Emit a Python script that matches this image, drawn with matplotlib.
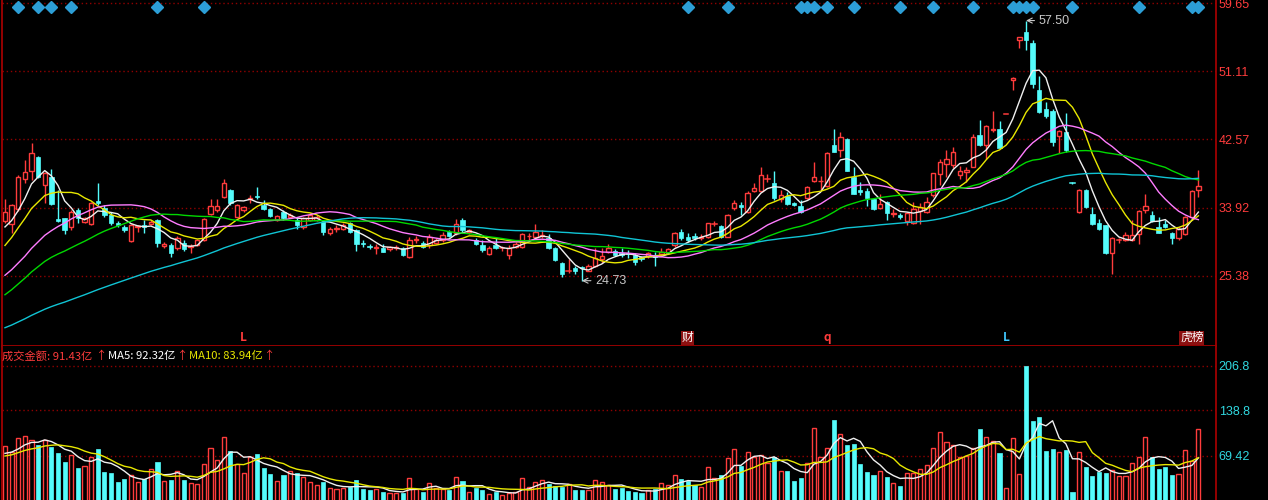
import numpy as np
import pandas as pd
import matplotlib
matplotlib.use("Agg")
import matplotlib.pyplot as plt
from matplotlib.patches import Rectangle

plt.rcParams['font.family'] = ['Noto Sans CJK SC', 'DejaVu Sans']

# ---------------- data ----------------
opens = [32.3, 31.87, 33.7, 37.6, 38.6, 40.27, 36.78, 37.75, 32.45, 32.58,
         31.53, 33.63, 32.16, 31.87, 34.8, 33.84, 33.0, 31.95, 31.53, 29.77,
         31.45, 31.74, 31.87, 32.37, 29.1, 29.22, 28.8, 29.43, 28.93, 29.22,
         29.85, 33.13, 33.63, 35.31, 36.15, 32.79, 33.63, 35.0, 35.4, 34.26,
         33.71, 32.37, 33.42, 32.79, 32.37, 31.45, 32.37, 32.37, 32.16, 30.7,
         31.25, 31.3, 31.95, 31.1, 29.45, 29.1, 28.9, 28.8, 28.7, 28.85,
         28.8, 27.75, 29.8, 29.5, 29.2, 29.5, 29.8, 30.9, 30.7, 32.4,
         30.9, 29.9, 29.2, 28.1, 29.2, 28.75, 28.0, 29.0, 29.0, 30.3,
         30.2, 30.3, 30.06, 28.8, 26.9, 25.95, 26.3, 26.5, 26.0, 26.6,
         27.4, 28.4, 28.5, 28.2, 28.2, 27.96, 27.7, 27.8, 27.96, 28.1,
         28.25, 29.2, 30.9, 30.2, 30.3, 30.1, 30.27, 31.85, 31.6, 30.27,
         33.84, 34.3, 33.4, 36.07, 36.07, 37.45, 36.99, 34.97, 35.4, 34.5,
         34.1, 35.2, 37.3, 37.25, 36.65, 41.8, 41.2, 42.53, 37.75, 36.2,
         36.07, 35.0, 33.84, 34.6, 33.1, 33.0, 32.3, 31.95, 33.55, 33.4,
         35.5, 38.17, 39.4, 39.3, 38.0, 38.4, 39.1, 43.1, 41.8, 43.7,
         43.8, 45.7, 50.0, 55.05, 56.1, 54.7, 48.7, 46.3, 46.15, 42.95,
         43.5, 37.07, 33.4, 36.15, 33.1, 32.0, 31.7, 28.25, 29.8, 29.85,
         29.85, 30.6, 33.6, 33.0, 31.45, 31.9, 30.8, 30.06, 30.6, 32.8,
         36.2]
highs = [34.97, 34.4, 38.0, 39.93, 42.03, 40.4, 38.46, 38.75, 36.15, 32.6,
         33.6, 33.84, 32.7, 34.7, 37.07, 34.3, 33.4, 32.3, 31.7, 31.9,
         31.8, 32.37, 32.4, 32.5, 29.6, 29.5, 30.3, 29.8, 29.4, 30.0,
         32.6, 34.97, 34.97, 37.5, 36.3, 34.4, 34.1, 35.5, 36.49, 34.9,
         33.9, 33.0, 33.63, 33.2, 32.6, 32.8, 33.2, 33.0, 32.37, 31.5,
         31.7, 32.0, 32.1, 31.2, 29.8, 29.4, 29.3, 29.3, 29.1, 29.2,
         29.0, 30.2, 30.3, 29.7, 30.6, 30.1, 30.9, 31.1, 32.5, 32.6,
         31.3, 30.1, 29.9, 29.1, 30.1, 29.1, 29.2, 29.6, 30.8, 30.8,
         31.9, 31.1, 30.6, 29.0, 27.1, 27.4, 26.6, 26.6, 26.8, 28.8,
         28.8, 29.35, 28.7, 28.8, 28.6, 28.2, 27.9, 28.4, 28.3, 28.8,
         28.9, 30.9, 31.3, 30.7, 30.7, 30.6, 32.0, 32.3, 31.8, 33.1,
         34.9, 34.6, 36.0, 37.0, 39.0, 38.2, 38.5, 36.1, 35.9, 34.7,
         34.9, 36.6, 39.7, 37.9, 40.9, 43.9, 43.5, 42.7, 39.1, 37.2,
         36.4, 35.2, 35.6, 34.8, 33.8, 33.2, 33.4, 34.7, 34.5, 35.3,
         38.25, 40.1, 41.2, 41.6, 39.2, 39.0, 43.2, 45.0, 44.3, 46.15,
         44.8, 45.7, 50.35, 55.4, 57.5, 55.0, 50.5, 47.3, 46.3, 43.7,
         45.8, 37.2, 36.3, 36.3, 34.0, 32.5, 31.8, 30.2, 30.1, 30.9,
         32.4, 33.6, 35.6, 33.5, 32.7, 32.4, 30.9, 31.5, 32.9, 36.2,
         38.7]
lows = [31.95, 30.7, 33.5, 37.0, 37.4, 37.7, 34.47, 34.3, 32.1, 30.6,
        31.1, 32.0, 32.0, 31.8, 34.26, 32.8, 31.8, 31.5, 30.9, 29.6,
        30.9, 30.7, 31.7, 28.93, 28.8, 27.7, 28.6, 28.5, 28.25, 29.1,
        29.7, 33.0, 33.4, 35.1, 34.3, 32.7, 33.4, 34.5, 35.0, 33.6,
        32.7, 32.2, 32.37, 32.6, 31.3, 31.3, 32.2, 32.2, 30.5, 30.5,
        30.9, 31.1, 30.8, 28.5, 29.0, 28.7, 28.1, 28.3, 28.5, 28.6,
        27.9, 27.6, 29.5, 28.9, 28.9, 29.3, 29.6, 30.2, 30.5, 30.9,
        30.6, 29.2, 28.4, 28.0, 28.7, 28.5, 27.5, 28.8, 28.9, 29.9,
        30.1, 30.1, 28.7, 27.2, 25.2, 25.65, 25.6, 24.73, 25.9, 26.5,
        26.9, 28.2, 27.8, 27.7, 27.6, 26.7, 27.2, 27.6, 26.6, 27.9,
        28.1, 29.0, 29.9, 29.6, 29.8, 29.9, 30.1, 31.6, 30.1, 30.2,
        33.6, 33.0, 33.3, 35.9, 35.9, 37.1, 34.9, 34.7, 34.3, 34.2,
        33.3, 35.0, 37.1, 36.15, 36.5, 40.9, 40.3, 38.5, 35.6, 35.5,
        34.1, 33.6, 33.7, 32.4, 32.8, 32.5, 31.7, 31.9, 31.9, 33.3,
        35.3, 36.8, 37.8, 38.9, 37.6, 37.2, 39.0, 41.7, 40.1, 43.5,
        41.4, 45.7, 48.75, 54.0, 53.8, 49.0, 45.8, 45.2, 41.7, 40.8,
        41.0, 36.9, 33.3, 33.9, 31.8, 31.1, 28.1, 25.6, 29.5, 29.7,
        29.7, 29.4, 33.2, 32.1, 30.7, 31.4, 29.35, 29.9, 30.5, 32.7,
        35.3]
closes = [33.4, 34.26, 37.75, 38.38, 40.77, 37.83, 38.29, 34.4, 32.3, 31.1,
          33.42, 32.58, 32.58, 34.47, 34.55, 33.0, 32.03, 31.74, 31.1, 31.74,
          31.6, 31.45, 32.16, 29.43, 29.35, 28.17, 30.06, 28.67, 29.1, 29.85,
          32.45, 34.13, 34.13, 37.07, 34.47, 34.26, 33.97, 35.2, 35.23, 33.71,
          32.87, 32.87, 32.58, 33.0, 31.74, 32.58, 33.0, 32.79, 30.9, 31.3,
          31.35, 31.7, 30.9, 29.4, 29.3, 29.0, 29.0, 28.4, 29.0, 28.95,
          27.96, 29.8, 29.95, 29.0, 30.2, 29.9, 30.5, 30.35, 31.9, 31.1,
          31.1, 29.4, 28.6, 28.8, 28.8, 28.8, 28.9, 29.4, 30.6, 30.4,
          30.9, 30.45, 28.8, 27.3, 25.57, 26.0, 25.9, 26.3, 26.6, 27.54,
          27.8, 28.8, 27.96, 27.95, 28.1, 27.1, 27.4, 28.2, 27.75, 28.4,
          28.7, 30.77, 30.06, 29.9, 30.1, 30.2, 31.95, 31.9, 30.27, 33.0,
          34.55, 34.0, 35.8, 36.36, 38.04, 37.5, 35.1, 35.5, 34.4, 34.3,
          33.4, 36.5, 37.8, 37.35, 40.77, 41.0, 42.8, 38.6, 35.7, 35.9,
          35.2, 33.7, 34.4, 33.2, 33.3, 32.7, 33.3, 33.7, 34.05, 34.7,
          38.25, 39.7, 40.1, 40.9, 38.5, 38.7, 42.8, 41.8, 44.2, 43.85,
          41.5, 45.7, 50.3, 55.4, 55.05, 49.5, 46.0, 45.5, 42.2, 43.6,
          41.2, 37.07, 36.15, 33.97, 31.9, 31.2, 28.17, 30.06, 29.85, 30.5,
          30.5, 33.55, 34.1, 32.2, 30.8, 31.5, 30.06, 31.3, 32.8, 36.07,
          36.65]
volumes = [84.2, 75.6, 95.9, 99.5, 93.4, 85.8, 93.4, 83.2, 74.1, 60.3,
           70.5, 51.2, 53.7, 68.0, 79.7, 45.0, 42.5, 28.8, 33.9, 40.0,
           28.8, 33.4, 49.1, 59.3, 30.8, 32.3, 46.6, 32.3, 27.2, 26.2,
           56.2, 80.7, 62.9, 97.5, 76.6, 56.2, 42.5, 66.9, 71.5, 51.2,
           41.0, 30.8, 40.0, 46.6, 42.5, 37.4, 28.8, 24.7, 29.8, 19.6,
           18.1, 19.6, 22.2, 32.3, 18.6, 17.1, 18.1, 14.5, 13.0, 12.0,
           13.0, 34.9, 18.1, 14.5, 27.2, 19.6, 18.1, 17.1, 36.4, 30.8,
           14.5, 19.6, 17.1, 11.0, 14.5, 9.4, 13.0, 14.5, 34.9, 22.2,
           29.8, 32.3, 26.2, 23.2, 21.2, 26.2, 17.1, 17.1, 17.1, 32.3,
           28.8, 24.7, 18.1, 19.6, 16.1, 14.0, 12.0, 17.1, 18.1, 27.2,
           24.7, 40.0, 33.9, 31.3, 24.7, 22.2, 52.7, 34.9, 40.0, 65.4,
           79.7, 53.7, 75.6, 68.0, 70.5, 57.8, 66.9, 46.6, 46.6, 31.3,
           35.4, 57.8, 111.2, 66.9, 80.7, 123.9, 102.5, 85.8, 87.3, 56.8,
           45.0, 40.0, 46.6, 36.4, 27.2, 23.2, 43.5, 43.5, 49.1, 55.2,
           80.7, 106.1, 90.8, 85.8, 68.0, 69.5, 80.7, 110.2, 97.5, 91.9,
           74.1, 19.6, 95.9, 41.0, 206.8, 122.4, 128.0, 77.1, 79.7, 75.6,
           78.1, 13.5, 75.6, 52.7, 38.4, 45.0, 42.5, 47.6, 38.4, 38.4,
           57.8, 68.0, 97.5, 68.0, 48.6, 51.7, 40.0, 41.5, 78.1, 61.3,
           109.7]
# closes / amounts of the days just before the visible window (estimated from MA start levels)
prior_closes = [14.2, 14.5, 14.3, 14.8, 15.1, 14.7, 14.4, 14.6, 14.9, 14.5,
                14.3, 14.6, 14.9, 15.2, 14.8, 14.5, 14.3, 14.1, 14.4, 14.7,
                14.9, 14.6, 14.4, 14.8, 15.0, 14.7, 14.5, 14.8, 15.1, 15.0,
                15.3, 15.9, 16.6, 17.2, 17.8, 18.5, 19.0, 19.6, 20.1, 20.6,
                20.2, 20.8, 21.5, 20.9, 21.3, 21.9, 22.6, 21.8, 22.4, 23.1,
                24.2, 25.5, 26.8, 28.1, 29.6, 30.2, 31.5, 30.8, 31.6]
prior_volumes = [58, 62, 66, 70, 69, 66, 72, 68, 74.8]

price_ticks = [59.65, 51.11, 42.57, 33.92, 25.38]
price_tick_labels = ['59.65', '51.11', '42.57', '33.92', '25.38']
vol_ticks = [206.8, 138.8, 69.42]
vol_tick_labels = ['206.8', '138.8', '69.42']
ma_periods = [5, 10, 20, 30, 60]
ma_colors = ['#f0f0f0', '#e8e800', '#ff7cff', '#00d800', '#10c4d4']
vol_ma_periods = [5, 10]
vol_ma_colors = ['#f0f0f0', '#e8e800']
signal_days = [2, 5, 7, 10, 23, 30, 103, 109, 120, 121, 122, 124, 128, 135,
               140, 146, 152, 153, 154, 155, 161, 171, 179, 180]
bottom_marks = [(36, 'L', '#ff3c3c', None), (103, '财', '#ffffff', '#8c1010'),
                (124, 'q', '#ff3c3c', None), (151, 'L', '#40c8ff', None),
                (179, '虎榜', '#ffffff', '#8c1010')]
legend_parts = [(2, '成交金额: 91.43亿', '#ff3c3c'), (96, '↑', '#ff3c3c'),
                (102, 'MA5: 92.32亿', '#ffffff'), (173, '↑', '#ff3c3c'),
                (180, 'MA10: 83.94亿', '#e8e800'), (258, '↑', '#ff3c3c')]
high_label = (154, 57.50, '57.50')
low_label = (87, 24.73, '24.73')

# ---------------- figure ----------------
RED = '#ff3c3c'
CYAN = '#54fcfc'
GRID = '#900000'
AXIS = '#a00000'
W, H = 1268, 500
TOP = 345.7

fig = plt.figure(figsize=(W / 100, H / 100), dpi=100, facecolor='black')
ax = fig.add_axes([2 / W, 1 - TOP / H, 1214 / W, TOP / H], facecolor='black')
axv = fig.add_axes([2 / W, 0, 1214 / W, (H - TOP) / H], facecolor='black')

n = len(closes)
for a in (ax, axv):
    a.set_xlim(-0.45, 182.65)
    for s in a.spines.values():
        s.set_color(AXIS)
        s.set_linewidth(1.3)
    a.spines['top'].set_visible(False)
    a.tick_params(axis='x', bottom=False, labelbottom=False)
    a.yaxis.tick_right()
    a.tick_params(axis='y', length=0, pad=2)
axv.spines['bottom'].set_visible(False)
ax.set_ylim(16.54, 60.09)
axv.set_ylim(1.8, 237.4)

ax.set_yticks(price_ticks)
ax.set_yticklabels(price_tick_labels, color=RED, fontsize=9, family=['Liberation Sans'])
axv.set_yticks(vol_ticks)
axv.set_yticklabels(vol_tick_labels, color='#30d8e0', fontsize=9, family=['Liberation Sans'])
for t in price_ticks:
    ax.axhline(t, color=GRID, lw=1, ls=(0, (1, 2)), zorder=0)
for t in vol_ticks:
    axv.axhline(t, color=GRID, lw=1, ls=(0, (1, 2)), zorder=0)

# up / down flag
up = []
for i in range(n):
    if closes[i] > opens[i]:
        up.append(True)
    elif closes[i] < opens[i]:
        up.append(False)
    else:
        up.append(i == 0 or closes[i] >= closes[i - 1])

BW = 0.66
for i in range(n):
    o, h, l, c = opens[i], highs[i], lows[i], closes[i]
    top, bot = max(o, c), min(o, c)
    col = RED if up[i] else CYAN
    if top - bot < 0.06:
        ax.plot([i - BW / 2, i + BW / 2], [c, c], color=col, lw=1.1, zorder=2)
        ax.vlines(i, l, h, color=col, lw=1, zorder=2)
    elif up[i]:
        ax.vlines(i, top, h, color=RED, lw=1, zorder=2)
        ax.vlines(i, l, bot, color=RED, lw=1, zorder=2)
        ax.add_patch(Rectangle((i - BW / 2, bot), BW, top - bot, facecolor='black',
                               edgecolor=RED, lw=1.0, zorder=2))
    else:
        ax.vlines(i, l, h, color=CYAN, lw=1, zorder=2)
        ax.add_patch(Rectangle((i - BW / 2, bot), BW, top - bot, facecolor=CYAN,
                               edgecolor=CYAN, lw=0.5, zorder=2))

# moving averages
allc = pd.Series(prior_closes + closes)
x = np.arange(n)
for p, colr in zip(ma_periods, ma_colors):
    m = allc.rolling(p).mean().values[len(prior_closes):]
    ax.plot(x, m, color=colr, lw=1.0, zorder=3)

# signal diamonds
ax.plot(signal_days, [59.25] * len(signal_days), ls='none', marker='D',
        markersize=6.2, color='#2c9ed6', zorder=4)

# high / low labels
hx, hy, ht = high_label
ax.annotate(ht, xy=(hx, hy), xytext=(hx + 1.9, hy), color='#c8c8c8', fontsize=9,
            va='center', ha='left', family=['Liberation Sans'],
            arrowprops=dict(arrowstyle='->', color='#c8c8c8', lw=0.8, shrinkA=1, shrinkB=0))
lx, ly, lt = low_label
ax.annotate(lt, xy=(lx, ly), xytext=(lx + 2.0, ly), color='#c8c8c8', fontsize=9,
            va='center', ha='left', family=['Liberation Sans'],
            arrowprops=dict(arrowstyle='->', color='#c8c8c8', lw=0.8, shrinkA=1, shrinkB=0))

# bottom marks
for xi, txt, colr, bg in bottom_marks:
    kw = dict(color=colr, fontsize=8.5, ha='center', va='center', zorder=5,
              fontweight='bold' if bg is None else 'normal')
    if bg is not None:
        kw['bbox'] = dict(boxstyle='square,pad=0.05', facecolor=bg, edgecolor='none')
    ax.text(xi, 17.55, txt, **kw)

# volume bars
for i in range(n):
    if up[i]:
        axv.add_patch(Rectangle((i - 0.31, 0), 0.62, volumes[i], facecolor='black',
                                edgecolor=RED, lw=1.0, zorder=2))
    else:
        axv.add_patch(Rectangle((i - 0.31, 0), 0.62, volumes[i], facecolor=CYAN,
                                edgecolor=CYAN, lw=0.5, zorder=2))
allv = pd.Series(prior_volumes + volumes)
for p, colr in zip(vol_ma_periods, vol_ma_colors):
    m = allv.rolling(p).mean().values[len(prior_volumes):]
    axv.plot(x, m, color=colr, lw=1.0, zorder=3)

# volume legend: pieces placed left to right, never overlapping
renderer = fig.canvas.get_renderer()
cursor = 0.0
for px, txt, colr in legend_parts:
    xpos = max(px, cursor + 1)
    t = fig.text(xpos / W, 1 - 356 / H, txt, color=colr, fontsize=8.1, ha='left', va='center')
    bb = t.get_window_extent(renderer=renderer)
    cursor = bb.x1

fig.savefig('out.png', dpi=100, facecolor='black')
